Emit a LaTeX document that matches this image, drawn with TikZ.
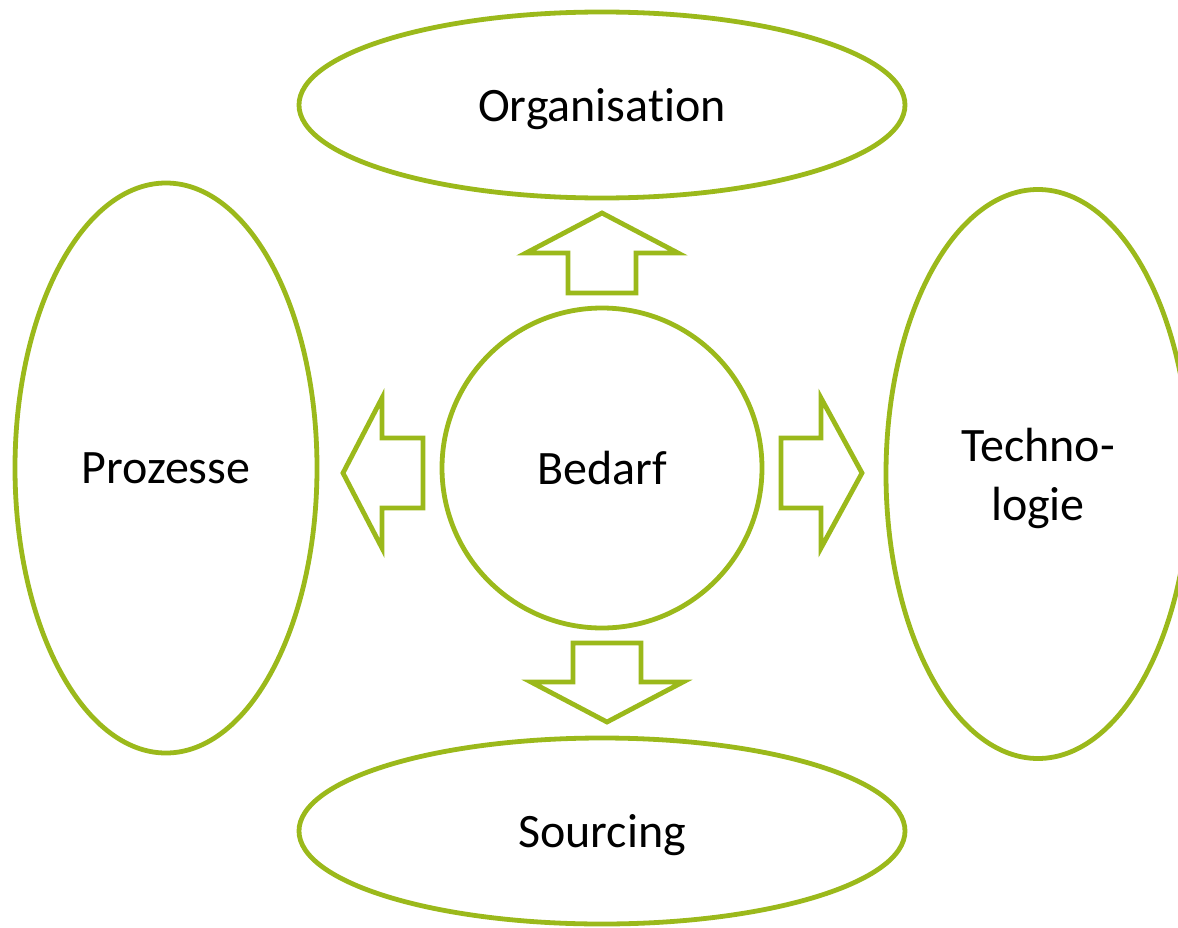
\documentclass[tikz,border=0pt]{standalone}
\usepackage{fontspec}
\setmainfont{Carlito}[Ligatures=NoCommon]
\usetikzlibrary{shapes.geometric}
\definecolor{olivgruen}{RGB}{155,185,27}
\begin{document}
\begin{tikzpicture}[x=0.75pt, y=-0.75pt, line width=3.6pt,
        main/.style = {draw=olivgruen, ellipse, inner sep=0pt, align=center, text depth=0pt, font=\fontsize{36}{44}\selectfont},
        pfeil/.style = {draw=olivgruen, line join=miter}]
    \useasboundingbox (0,0) rectangle (1178,928);
    \node[main, minimum width=240pt, minimum height=240pt] (1) at (602,468) {Bedarf};
    \node[main, minimum width=454.5pt, minimum height=139.5pt] (2) at (602,105) {Organisation};
    \node[main, minimum width=454.5pt, minimum height=139.5pt] (3) at (602,831) {Sourcing};
    \node[main, minimum width=226.5pt, minimum height=427.5pt] (4) at (166,468) {Prozesse};
    \node[main, minimum width=228pt, minimum height=426.75pt] (5) at (1038,474) {Techno-\\logie};

    % Pfeile
    \draw[pfeil] (602,213) -- (678,253) -- (636,253) -- (636,293) -- (568,293) -- (568,253) -- (526,253) -- cycle;
    \draw[pfeil] (607,722) -- (683,682) -- (641,682) -- (641,643) -- (573,643) -- (573,682) -- (531,682) -- cycle;
    \draw[pfeil] (343,473) -- (382,398) -- (382,438) -- (423,438) -- (423,508) -- (382,508) -- (382,548) -- cycle;
    \draw[pfeil] (862,473) -- (821,398) -- (821,438) -- (781,438) -- (781,508) -- (821,508) -- (821,548) -- cycle;
\end{tikzpicture}
\end{document}
